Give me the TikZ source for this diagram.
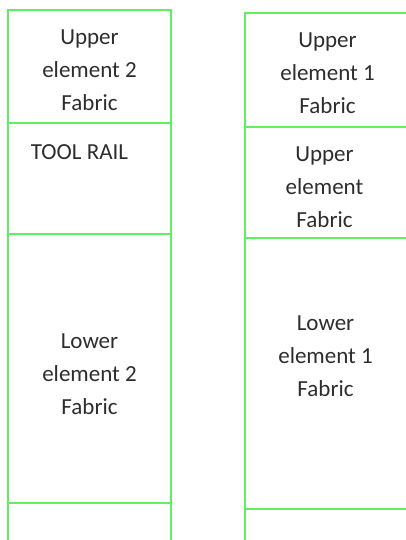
\documentclass[tikz,border=0pt]{standalone}
\usepackage{fontspec}
\setmainfont{Carlito}
\usetikzlibrary{positioning}

\definecolor{railgreen}{RGB}{95,240,95}
\definecolor{textgray}{RGB}{45,45,45}

\begin{document}
\begin{tikzpicture}[
  x=1pt, y=-1pt,
  panel/.style={draw=railgreen, line width=2.4pt, minimum width=163pt,
    inner sep=0pt, outer sep=0pt},
  lbl/.style={text=textgray, align=center, inner sep=0pt,
    font=\fontsize{23}{33}\selectfont}
]
\useasboundingbox (0,0) rectangle (405,540);

% Left stack
\node[panel, minimum height=113pt] (left1) at (89.5,66.5) {};
\node[panel, minimum height=111pt, below=0pt of left1] (left2) {};
\node[panel, minimum height=269pt, below=0pt of left2] (left3) {};
\node[panel, minimum height=50pt, below=0pt of left3] (left4) {};

% Right stack
\node[panel, minimum height=114pt] (right1) at (326.5,70) {};
\node[panel, minimum height=111pt, below=0pt of right1] (right2) {};
\node[panel, minimum height=271pt, below=0pt of right2] (right3) {};
\node[panel, minimum height=50pt, below=0pt of right3] (right4) {};

% Labels
\node[lbl] (upper2) at ([yshift=-4pt]left1.center) {Upper\\element 2\\Fabric};
\node[lbl] (toolrail) at ([xshift=-10pt,yshift=26pt]left2.center) {TOOL RAIL};
\node[lbl] (lower2) at ([yshift=-6pt]left3.center) {Lower\\element 2\\Fabric};
\node[lbl] (upper1) at ([xshift=1pt,yshift=-3pt]right1.center) {Upper\\element 1\\Fabric};
\node[lbl] (upper) at ([xshift=-2pt,yshift=-5pt]right2.center) {Upper\\element\\Fabric};
\node[lbl] (lower1) at ([xshift=-1pt,yshift=17pt]right3.center) {Lower\\element 1\\Fabric};
\end{tikzpicture}
\end{document}
